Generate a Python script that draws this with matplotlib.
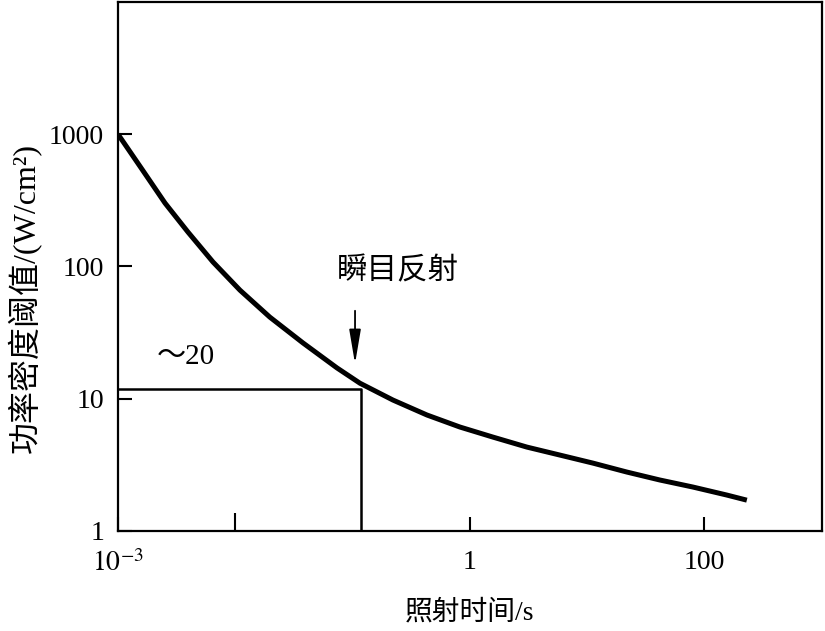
import matplotlib
matplotlib.use("Agg")
import matplotlib.pyplot as plt
from matplotlib.ticker import NullFormatter, NullLocator

plt.rcParams['font.family'] = ['Liberation Serif', 'Noto Sans CJK SC']
plt.rcParams['mathtext.fontset'] = 'stix'

# threshold curve
time_s = [0.001, 0.0016, 0.00252, 0.00395, 0.00646, 0.01096, 0.0197, 0.0378,
          0.0736, 0.1156, 0.221, 0.431, 0.822, 1.57, 3.06, 5.85, 11.2,
          21.8, 41.6, 79.6, 155, 230]
power = [1000, 544, 301, 182, 108, 66.2, 41.4, 26.4,
         17.1, 13.1, 9.77, 7.53, 6.11, 5.13, 4.31, 3.75, 3.26,
         2.79, 2.43, 2.15, 1.87, 1.71]

# blink reflex box
blink_t = 0.118
blink_p = 11.9

x_ticks = [0.001, 1, 100]
x_ticklabels = ['$10^{-3}$', '1', '100']
y_ticks = [1, 10, 100, 1000]
y_ticklabels = ['1', '10', '100', '1000']

fig = plt.figure(figsize=(8.25, 6.31), dpi=100)
ax = fig.add_axes([0.143, 0.1585, 0.853, 0.8385])

ax.plot(time_s, power, color='black', linewidth=3.6,
        solid_capstyle='butt', solid_joinstyle='round')
ax.plot([0.001, blink_t, blink_t], [blink_p, blink_p, 1],
        color='black', linewidth=1.8)

ax.set_xscale('log')
ax.set_yscale('log')
ax.set_xlim(0.001, 1000)
ax.set_ylim(1, 10000)

ax.set_xticks(x_ticks)
ax.set_xticklabels(x_ticklabels)
ax.set_xticks([0.01], minor=True)
ax.xaxis.set_minor_formatter(NullFormatter())
ax.set_yticks(y_ticks)
ax.set_yticklabels(y_ticklabels)
ax.yaxis.set_minor_locator(NullLocator())
ax.tick_params(axis='both', which='major', direction='in', length=10, width=1.5,
               labelsize=20)
ax.tick_params(axis='x', which='major', pad=14)
ax.tick_params(axis='y', which='major', pad=10)
ax.tick_params(axis='x', which='minor', direction='in', length=13, width=1.5)
for s in ax.spines.values():
    s.set_linewidth(1.6)

ax.set_xlabel('照射时间/s', fontsize=20, labelpad=16)
ax.set_ylabel('功率密度阈值/(W/cm²)', fontsize=23)
ax.yaxis.set_label_coords(-0.108, 0.44)

ax.annotate('', xy=(0.105, 17.5), xytext=(0.105, 48.5),
            arrowprops=dict(arrowstyle='-|>,head_length=1.3,head_width=0.22',
                            color='black', lw=1.3, mutation_scale=16))
ax.text(0.244, 90.7, '瞬目反射', fontsize=22, ha='center', va='center')
ax.text(0.00215, 20.7, '～20', fontsize=21, ha='left', va='center')

fig.savefig('out.png', dpi=100)
